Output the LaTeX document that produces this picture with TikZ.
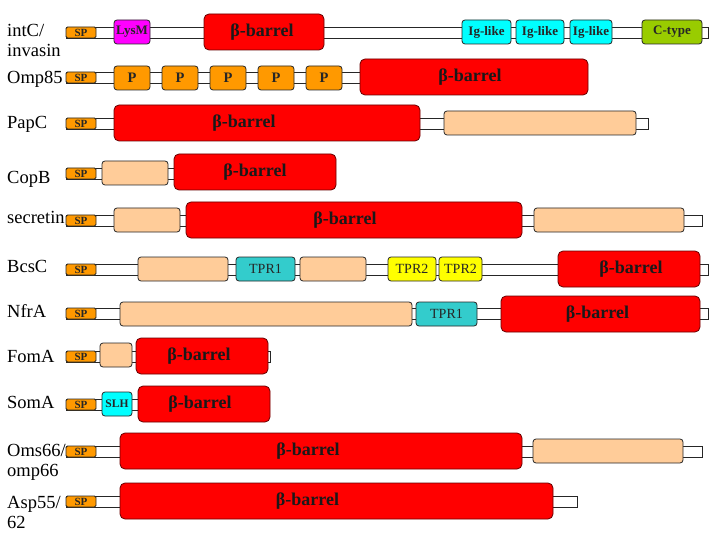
\documentclass[tikz,border=0pt]{standalone}
\usepackage{fontspec}
\setmainfont{Liberation Serif}
\usetikzlibrary{positioning,backgrounds}

\definecolor{spor}{HTML}{FF9900}
\definecolor{lysmc}{HTML}{FF00FF}
\definecolor{igc}{HTML}{00FFFF}
\definecolor{ctc}{HTML}{99CC00}
\definecolor{peachc}{HTML}{FFCC99}
\definecolor{tpronec}{HTML}{33CCCC}
\definecolor{tprtwoc}{HTML}{FFFF00}

\begin{document}
\begin{tikzpicture}[%
	x=1pt, y=-1pt,              % pixel grid, y runs downwards
	every node/.style={font=\fontsize{18.5}{20}\selectfont},
	]
	% -------------------------------------------------
	% Domain styles
	\tikzset{
		prot/.style={anchor=base west, align=left, inner sep=0pt},
		dom/.style={draw=black!85, line width=0.8pt, rounded corners=3pt,
			anchor=north west, inner sep=0pt, outer sep=0pt,
			minimum height=24pt, text=black!85,
			font=\fontsize{13}{13}\selectfont\bfseries},
		sp/.style={dom, fill=spor, minimum width=30pt, minimum height=11pt,
			rounded corners=1.5pt, font=\fontsize{11}{11}\selectfont\bfseries},
		lysm/.style={dom, fill=lysmc},
		pbox/.style={dom, fill=spor, minimum width=36pt,
			font=\fontsize{14.5}{14.5}\selectfont\bfseries},
		ig/.style={dom, fill=igc},
		ctype/.style={dom, fill=ctc},
		peach/.style={dom, fill=peachc},
		tpr/.style={dom, fill=tpronec, font=\fontsize{14}{14}\selectfont},
		tprtwo/.style={dom, fill=tprtwoc, font=\fontsize{14}{14}\selectfont},
		slh/.style={dom, fill=igc, font=\fontsize{11.5}{11.5}\selectfont\bfseries},
		% beta-barrel, text placed as a label (shift given as argument)
		btxt/.style={font=\fontsize{18}{18}\selectfont\bfseries, text=black!90,
			inner sep=0pt},
		barrel/.style={dom, fill=red, draw=red!40!black, minimum height=36pt,
			rounded corners=5pt, label={[btxt, xshift=#1]center:β-barrel}},
		barrel/.default=0pt,
		% backbone of the protein
		bone/.style={draw=black!85, fill=white, line width=0.8pt},
	}

	\useasboundingbox (0,0) rectangle (720,540);

	% intC/invasin (two-line names sit on their last baseline)
	\node[prot]							(l1)	at (7,57)	{intC/\\invasin};
	\node[sp]							(sp1)	at (66,27)	{SP};
	\node[lysm, minimum width=36pt]		(lys1)	at (114,20)	{LysM};
	\node[barrel=-2pt, minimum width=120pt]	(b1)	at (204,14)	{};
	\node[ig, minimum width=49pt]		(ig1)	at (462,20)	{Ig-like};
	\node[ig, minimum width=48pt]		(ig2)	at (516,20)	{Ig-like};
	\node[ig, minimum width=42pt]		(ig3)	at (570,20)	{Ig-like};
	\node[ctype, minimum width=60pt]	(ct1)	at (642,20)	{C-type};
	\coordinate (e1) at (708,0);

	% Omp85
	\node[prot]							(l2)	at (7,84)	{Omp85};
	\node[sp]							(sp2)	at (66,72)	{SP};
	\foreach \x [count=\i] in {114,162,210,258,306}
		\node[pbox] (p\i) at (\x,66) {P};
	\node[barrel=-4pt, minimum width=228pt]	(b2)	at (360,59)	{};

	% PapC
	\node[prot]							(l3)	at (7,129)	{PapC};
	\node[sp]							(sp3)	at (66,118)	{SP};
	\node[barrel=-23pt, minimum width=306pt]	(b3)	at (114,105)	{};
	\node[peach, minimum width=192pt]	(pe3)	at (444,111)	{};
	\coordinate (e3) at (648,0);

	% CopB
	\node[prot]							(l4)	at (7,184)	{CopB};
	\node[sp]							(sp4)	at (66,168)	{SP};
	\node[peach, minimum width=66pt]	(pe4)	at (102,161)	{};
	\node[barrel, minimum width=162pt]	(b4)	at (174,154)	{};

	% secretin
	\node[prot]							(l5)	at (7,224)	{secretin};
	\node[sp]							(sp5)	at (66,215)	{SP};
	\node[peach, minimum width=66pt]	(pe5a)	at (114,208)	{};
	\node[barrel=-9pt, minimum width=336pt]	(b5)	at (186,202)	{};
	\node[peach, minimum width=150pt]	(pe5b)	at (534,208)	{};
	\coordinate (e5) at (702,0);

	% BcsC
	\node[prot]							(l6)	at (7,272)	{BcsC};
	\node[sp]							(sp6)	at (66,264)	{SP};
	\node[peach, minimum width=90pt]	(pe6a)	at (138,257)	{};
	\node[tpr, minimum width=59pt]		(tp6)	at (236,257)	{TPR1};
	\node[peach, minimum width=66pt]	(pe6b)	at (300,257)	{};
	\node[tprtwo, minimum width=48pt]	(tq6a)	at (388,257)	{TPR2};
	\node[tprtwo, minimum width=43pt]	(tq6b)	at (439,257)	{TPR2};
	\node[barrel=2pt, minimum width=142pt]	(b6)	at (558,251)	{};
	\coordinate (e6) at (708,0);

	% NfrA
	\node[prot]							(l7)	at (7,317)	{NfrA};
	\node[sp]							(sp7)	at (66,308)	{SP};
	\node[peach, minimum width=292pt]	(pe7)	at (120,302)	{};
	\node[tpr, minimum width=61pt]		(tp7)	at (416,302)	{TPR1};
	\node[barrel=-3pt, minimum width=199pt]	(b7)	at (501,296)	{};
	\coordinate (e7) at (708,0);

	% FomA
	\node[prot]							(l8)	at (7,362)	{FomA};
	\node[sp]							(sp8)	at (66,351)	{SP};
	\node[peach, minimum width=32pt]	(pe8)	at (100,343)	{};
	\node[barrel=-3pt, minimum width=132pt]	(b8)	at (136,338)	{};
	\coordinate (e8) at (270,0);

	% SomA
	\node[prot]							(l9)	at (7,408)	{SomA};
	\node[sp]							(sp9)	at (66,399)	{SP};
	\node[slh, minimum width=30pt]		(sl9)	at (102,392)	{SLH};
	\node[barrel=-4pt, minimum width=132pt]	(b9)	at (138,386)	{};

	% Oms66/omp66
	\node[prot]							(l10)	at (7,476)	{Oms66/\\omp66};
	\node[sp]							(sp10)	at (66,446)	{SP};
	\node[barrel=-13pt, minimum width=402pt]	(b10)	at (120,433)	{};
	\node[peach, minimum width=150pt]	(pe10)	at (533,439)	{};
	\coordinate (e10) at (702,0);

	% Asp55/62
	\node[prot]							(l11)	at (7,528)	{Asp55/\\62};
	\node[sp]							(sp11)	at (66,496)	{SP};
	\node[barrel=-29pt, minimum width=433pt]	(b11)	at (120,483)	{};
	\coordinate (e11) at (577,0);

	% backbones behind the domains
	\begin{scope}[on background layer]
		\fill[white] (0,0) rectangle (720,540);
		\draw[bone] (sp1.north west)  rectangle (e1 |- sp1.south);
		\draw[bone] (sp2.north west)  rectangle (b2.center |- sp2.south);
		\draw[bone] (sp3.north west)  rectangle (e3 |- sp3.south);
		\draw[bone] (sp4.north west)  rectangle (b4.center |- sp4.south);
		\draw[bone] (sp5.north west)  rectangle (e5 |- sp5.south);
		\draw[bone] (sp6.north west)  rectangle (e6 |- sp6.south);
		\draw[bone] (sp7.north west)  rectangle (e7 |- sp7.south);
		\draw[bone] (sp8.north west)  rectangle (e8 |- sp8.south);
		\draw[bone] (sp9.north west)  rectangle (b9.center |- sp9.south);
		\draw[bone] (sp10.north west) rectangle (e10 |- sp10.south);
		\draw[bone] (sp11.north west) rectangle (e11 |- sp11.south);
	\end{scope}

\end{tikzpicture}
\end{document}
